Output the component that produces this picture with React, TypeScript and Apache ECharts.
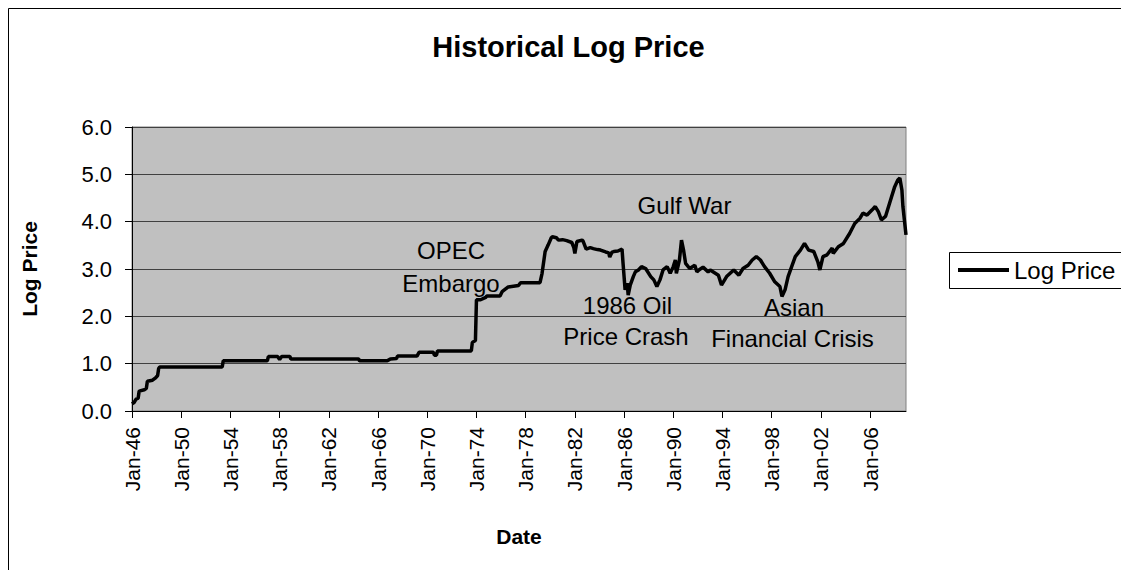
import React, { useEffect, useRef } from "react";
import * as echarts from "echarts";

// Months since Jan-1946 and the log price read at those months
const monthIndex = [
  0, 2, 4, 6, 7, 12, 14, 15, 20, 23, 25, 26, 27, 88, 89, 132, 133, 142, 144, 146,
  154, 155, 221, 222, 249, 252, 258, 259, 278, 280, 294, 295, 297, 298, 331, 332,
  335, 336, 340, 345, 346, 359, 361, 367, 377, 379, 398, 400, 403, 406, 409, 410,
  414, 416, 420, 424, 429, 431, 432, 434, 439, 440, 443, 447, 450, 454, 457, 462,
  465, 466, 468, 470, 474, 478, 479, 481, 483, 484, 486, 489, 491, 494, 497, 501,
  506, 509, 512, 515, 518, 522, 525, 528, 530, 531, 534, 536, 538, 540, 544, 549,
  551, 553, 557, 562, 564, 572, 575, 580, 584, 587, 592, 596, 601, 605, 609, 613,
  617, 622, 627, 632, 634, 637, 640, 644, 647, 652, 656, 660, 665, 669, 671, 674,
  678, 683, 684, 689, 694, 700, 705, 710, 713, 717, 722, 725, 728, 731, 735, 738,
  741, 744, 747, 749, 751, 752, 755,
];
const logPrice = [
  0.15, 0.18, 0.25, 0.27, 0.42, 0.45, 0.48, 0.63, 0.65, 0.7, 0.75, 0.9, 0.93, 0.93, 1.06, 1.06, 1.15, 1.15, 1.09, 1.15,
  1.15, 1.1, 1.1, 1.06, 1.06, 1.1, 1.11, 1.16, 1.16, 1.24, 1.24, 1.18, 1.18, 1.27, 1.27, 1.45,
  1.49, 2.35, 2.35, 2.4, 2.43, 2.43, 2.52, 2.62, 2.65, 2.71, 2.71, 2.91, 3.37, 3.51, 3.66, 3.68,
  3.66, 3.61, 3.62, 3.6, 3.56, 3.45, 3.33, 3.58, 3.61, 3.59, 3.42, 3.45, 3.43, 3.41, 3.4, 3.36,
  3.34, 3.25, 3.35, 3.37, 3.38, 3.42, 3.12, 2.56, 2.7, 2.45, 2.66, 2.84, 2.94, 2.98, 3.05, 3.01,
  2.84, 2.77, 2.63, 2.77, 2.98, 3.05, 2.91, 3.05, 3.19, 2.91, 3.19, 3.61, 3.4, 3.12, 3.01, 3.08,
  2.94, 2.98, 3.04, 2.94, 2.98, 2.87, 2.66, 2.84, 2.92, 2.98, 2.87, 3.01, 3.08, 3.19, 3.26, 3.19,
  3.05, 2.91, 2.73, 2.63, 2.42, 2.56, 2.84, 3.08, 3.26, 3.4, 3.54, 3.4, 3.37, 3.15, 2.98, 3.26,
  3.3, 3.44, 3.33, 3.47, 3.54, 3.75, 3.96, 4.07, 4.18, 4.14, 4.25, 4.32, 4.21, 4.04, 4.11, 4.32,
  4.53, 4.74, 4.88, 4.92, 4.67, 4.32, 3.72,
];
const xTickValues = [0, 48, 96, 144, 192, 240, 288, 336, 384, 432, 480, 528, 576, 624, 672, 720];
const xTickLabels = [
  "Jan-46", "Jan-50", "Jan-54", "Jan-58", "Jan-62", "Jan-66", "Jan-70", "Jan-74",
  "Jan-78", "Jan-82", "Jan-86", "Jan-90", "Jan-94", "Jan-98", "Jan-02", "Jan-06",
];
const lastMonth = 755;
const seriesName = "Log Price";
const titleText = "Historical Log Price";
const xAxisName = "Date";
const yAxisName = "Log Price";
const notes = ["OPEC", "Embargo", "1986 Oil", "Price Crash", "Gulf War", "Asian", "Financial Crisis"];

const FONT = "'Liberation Sans', Arial, sans-serif";

export default function App() {
  const ref = useRef<HTMLDivElement>(null);
  useEffect(() => {
    const chart = echarts.init(ref.current as HTMLDivElement, null, { renderer: "svg" });
    const notePos = [
      [443, 242.5], [443, 275], [619.5, 297], [618, 328.5], [676.5, 197], [786, 299], [784.5, 330],
    ];
    chart.setOption({
      animation: false,
      backgroundColor: "#ffffff",
      textStyle: { fontFamily: FONT },
      title: {
        text: titleText,
        left: "center",
        top: 24,
        padding: 0,
        textStyle: { fontFamily: FONT, fontSize: 29, fontWeight: "bold", color: "#000" },
      },
      legend: {
        left: 950,
        top: 250,
        padding: 0,
        icon: "rect",
        itemWidth: 51,
        itemHeight: 4,
        textStyle: { fontFamily: FONT, fontSize: 24, color: "#000" },
        data: [seriesName],
      },
      grid: {
        left: 124,
        top: 119,
        width: 774,
        height: 284,
        show: true,
        backgroundColor: "#C0C0C0",
        borderColor: "#808080",
        borderWidth: 1,
      },
      xAxis: {
        type: "value",
        min: 0,
        max: lastMonth,
        interval: 48,
        name: xAxisName,
        nameLocation: "middle",
        nameGap: 115,
        nameTextStyle: { fontFamily: FONT, fontSize: 21, fontWeight: "bold", color: "#000" },
        axisLine: { show: true, lineStyle: { color: "#000", width: 1 } },
        axisTick: { show: true, length: 7, lineStyle: { color: "#000" }, customValues: xTickValues },
        splitLine: { show: false },
        axisLabel: {
          rotate: 90,
          margin: 16,
          fontFamily: FONT,
          fontSize: 21,
          color: "#000",
          customValues: xTickValues,
          formatter: (v: number) => xTickLabels[Math.round(v / 48)] ?? "",
        },
      },
      yAxis: {
        type: "value",
        min: 0,
        max: 6,
        interval: 1,
        name: yAxisName,
        nameLocation: "middle",
        nameGap: 92,
        nameTextStyle: { fontFamily: FONT, fontSize: 21, fontWeight: "bold", color: "#000" },
        axisLine: { show: true, lineStyle: { color: "#000", width: 1 } },
        axisTick: { show: true, length: 7, lineStyle: { color: "#000" } },
        splitLine: { show: true, lineStyle: { color: "#404040", width: 1 } },
        axisLabel: {
          margin: 20,
          fontFamily: FONT,
          fontSize: 22,
          color: "#000",
          formatter: (v: number) => v.toFixed(1),
        },
      },
      graphic: [
        {
          type: "rect",
          shape: { x: 0.5, y: 0.5, width: 1119, height: 700 },
          style: { fill: "none", stroke: "#000", lineWidth: 1 },
          silent: true,
          z: -1,
        },
        {
          type: "rect",
          shape: { x: 941.5, y: 244.5, width: 174, height: 36 },
          style: { fill: "#fff", stroke: "#000", lineWidth: 1 },
          silent: true,
          z: -1,
        },
        ...notes.map((t, i) => ({
          type: "text",
          x: notePos[i][0],
          y: notePos[i][1],
          silent: true,
          z: 10,
          style: {
            text: t,
            fontFamily: FONT,
            fontSize: 24,
            fill: "#000",
            textAlign: "center",
            textVerticalAlign: "middle",
          },
        })),
      ],
      series: [
        {
          name: seriesName,
          type: "line",
          data: monthIndex.map((m, i) => [m, logPrice[i]]),
          showSymbol: false,
          symbol: "none",
          lineStyle: { color: "#000", width: 3.5 },
          itemStyle: { color: "#000" },
          z: 5,
        },
      ],
    });
    return () => chart.dispose();
  }, []);
  return <div ref={ref} style={{ width: 1121, height: 562 }} />;
}
